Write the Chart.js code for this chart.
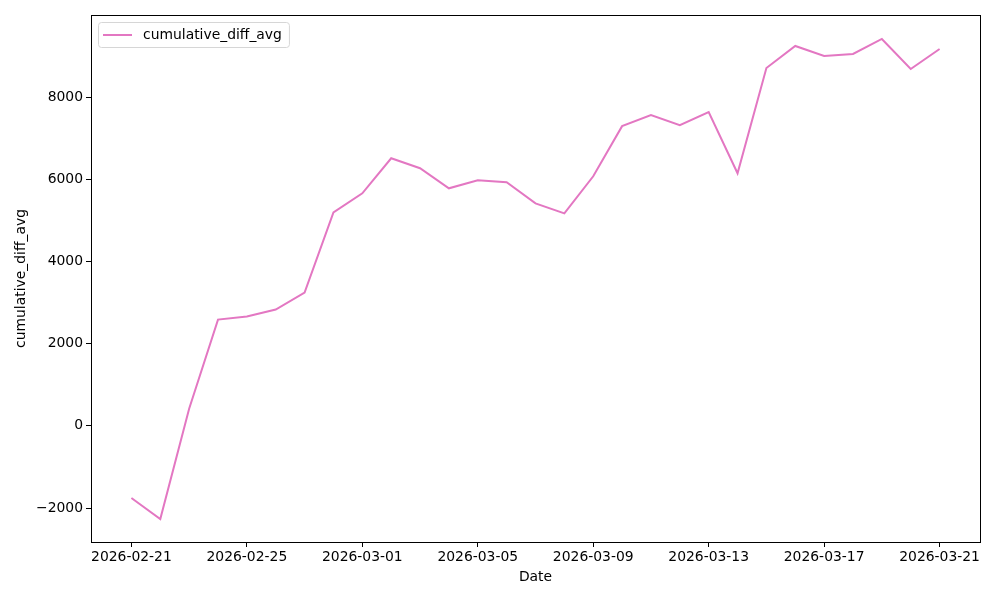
<!DOCTYPE html>
<html>
<head>
<meta charset="utf-8">
<script src="https://cdn.jsdelivr.net/npm/chart.js@4"></script>
<style>
	body { margin: 0; background: #fff; }
	#wrap { width: 1000px; height: 600px; }
</style>
</head>
<body>
<div id="wrap"><canvas id="myChart" width="1000" height="600"></canvas></div>
<script>
// data
var dates = [
	"2026-02-21", "2026-02-22", "2026-02-23", "2026-02-24", "2026-02-25",
	"2026-02-26", "2026-02-27", "2026-02-28", "2026-03-01", "2026-03-02",
	"2026-03-03", "2026-03-04", "2026-03-05", "2026-03-06", "2026-03-07",
	"2026-03-08", "2026-03-09", "2026-03-10", "2026-03-11", "2026-03-12",
	"2026-03-13", "2026-03-14", "2026-03-15", "2026-03-16", "2026-03-17",
	"2026-03-18", "2026-03-19", "2026-03-20", "2026-03-21"
];
var cumulativeDiffAvg = [
	-1756, -2268, 415, 2585, 2659,
	2829, 3244, 5195, 5659, 6512,
	6268, 5780, 5976, 5927, 5415,
	5171, 6073, 7293, 7561, 7317,
	7634, 6146, 8707, 9244, 9000,
	9049, 9415, 8683, 9171
];
var xTickDates = ["2026-02-21", "2026-02-25", "2026-03-01", "2026-03-05", "2026-03-09",
	"2026-03-13", "2026-03-17", "2026-03-21"];
var yTickValues = [-2000, 0, 2000, 4000, 6000, 8000];

var font = "'DejaVu Sans', sans-serif";
var fontSize = 13.9;
var lineColor = "#e377c2";

var points = dates.map(function (d, i) {
	return { x: i, y: cumulativeDiffAvg[i] };
});

// matplotlib style frame (top + right spines) and legend inside the axes
var framePlugin = {
	id: "frame",
	afterDraw: function (chart) {
		var ctx = chart.ctx;
		var a = chart.chartArea;
		ctx.save();
		ctx.strokeStyle = "#000";
		ctx.lineWidth = 1;
		ctx.strokeRect(Math.round(a.left) + 0.5, Math.round(a.top) + 0.5,
			Math.round(a.right - a.left), Math.round(a.bottom - a.top));

		// legend
		var ds = chart.data.datasets[0];
		ctx.font = fontSize + "px " + font;
		var tw = ctx.measureText(ds.label).width;
		var x0 = a.left + 7, y0 = a.top + 7;
		var w = tw + 52, h = 25;
		ctx.beginPath();
		if (ctx.roundRect) {
			ctx.roundRect(x0 + 0.5, y0 + 0.5, w, h, 3);
		} else {
			ctx.rect(x0 + 0.5, y0 + 0.5, w, h);
		}
		ctx.fillStyle = "rgba(255,255,255,0.8)";
		ctx.fill();
		ctx.strokeStyle = "#d6d6d6";
		ctx.stroke();
		ctx.beginPath();
		ctx.strokeStyle = ds.borderColor;
		ctx.lineWidth = 2;
		ctx.moveTo(x0 + 5, y0 + 13);
		ctx.lineTo(x0 + 34, y0 + 13);
		ctx.stroke();
		ctx.fillStyle = "#000";
		ctx.textBaseline = "middle";
		ctx.fillText(ds.label, x0 + 45, y0 + 13);
		ctx.restore();
	}
};

var ctx = document.getElementById("myChart").getContext("2d");
var myChart = new Chart(ctx, {
	type: "line",
	data: {
		datasets: [
			{
				label: "cumulative_diff_avg",
				data: points,
				borderColor: lineColor,
				backgroundColor: lineColor,
				borderWidth: 2,
				pointRadius: 0,
				tension: 0,
				fill: false,
			},
		],
	},
	options: {
		responsive: false,
		animation: false,
		layout: {
			padding: { left: 0, top: 15, right: 20, bottom: 0 },
		},
		plugins: {
			legend: { display: false },
			tooltip: { enabled: false },
		},
		scales: {
			x: {
				type: "linear",
				min: -1.4,
				max: 29.4,
				afterBuildTicks: function (scale) {
					scale.ticks = xTickDates.map(function (d) {
						return { value: dates.indexOf(d) };
					});
				},
				afterFit: function (scale) {
					scale.height = 58;
				},
				ticks: {
					color: "#000",
					font: { family: font, size: fontSize },
					maxRotation: 0,
					padding: 2,
					callback: function (v) {
						return dates[v];
					},
				},
				grid: {
					display: true,
					drawOnChartArea: false,
					drawTicks: true,
					tickLength: 5,
					color: "#000",
				},
				border: { display: true, color: "#000" },
				title: {
					display: true,
					text: "Date",
					color: "#000",
					font: { family: font, size: fontSize },
					padding: { top: 0, bottom: 14.5 },
				},
			},
			y: {
				type: "linear",
				min: -2827,
				max: 9998,
				afterBuildTicks: function (scale) {
					scale.ticks = yTickValues.map(function (v) {
						return { value: v };
					});
				},
				afterFit: function (scale) {
					scale.width = 91;
				},
				ticks: {
					color: "#000",
					font: { family: font, size: fontSize },
					padding: 3,
					callback: function (v) {
						return v < 0 ? "\u2212" + Math.abs(v) : String(v);
					},
				},
				grid: {
					display: true,
					drawOnChartArea: false,
					drawTicks: true,
					tickLength: 5,
					color: "#000",
				},
				border: { display: true, color: "#000" },
				title: {
					display: true,
					text: "cumulative_diff_avg",
					color: "#000",
					font: { family: font, size: fontSize },
					padding: { top: 13.5, bottom: 0 },
				},
			},
		},
	},
	plugins: [framePlugin],
});
</script>
</body>
</html>
